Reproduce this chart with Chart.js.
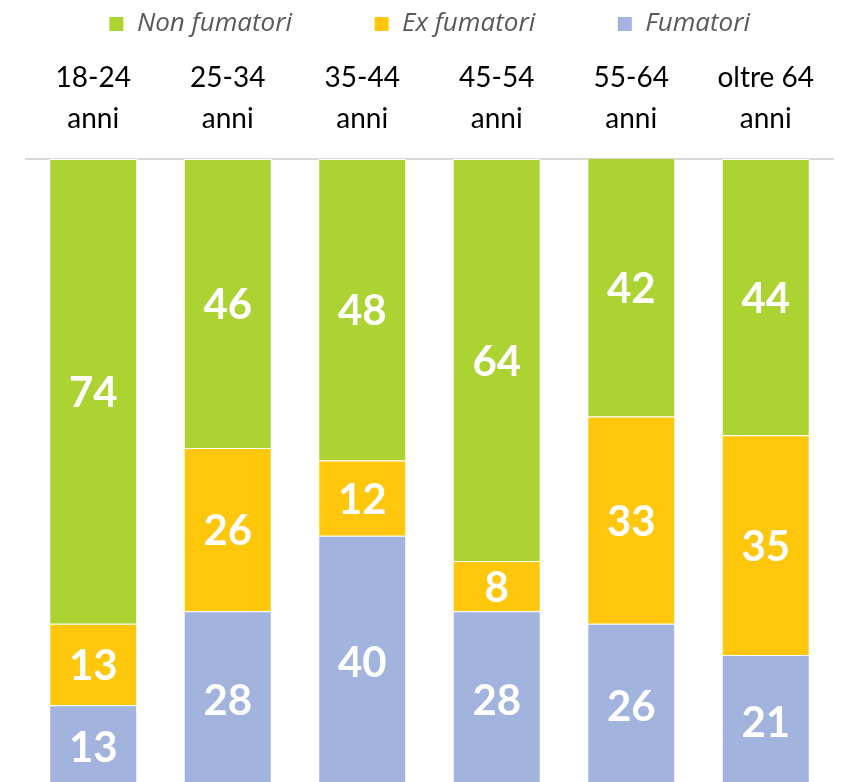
<!DOCTYPE html>
<html>
<head>
<meta charset="utf-8">
<script src="https://cdn.jsdelivr.net/npm/chart.js@4"></script>
<style>
    html, body { margin: 0; padding: 0; background: #fff; overflow: hidden; }
    #wrap { position: relative; width: 841px; height: 787px; }
</style>
</head>
<body>
<div id="wrap"><canvas id="smokeChart"></canvas></div>
<script>
// age groups (two-line tick labels) and shares per group, in %
const ageGroups = [
    ['18-24', 'anni'],
    ['25-34', 'anni'],
    ['35-44', 'anni'],
    ['45-54', 'anni'],
    ['55-64', 'anni'],
    ['oltre 64', 'anni'],
]
const fumatori = [13, 28, 40, 28, 26, 21]
const exFumatori = [13, 26, 12, 8, 33, 35]
const nonFumatori = [74, 46, 48, 64, 42, 44]

const FONT = 'Lato, "Open Sans", sans-serif'

// white numbers in the middle of each segment
const segmentLabels = {
    id: 'segmentLabels',
    afterDatasetsDraw(chart) {
        const ctx = chart.ctx
        ctx.save()
        ctx.fillStyle = '#ffffff'
        ctx.font = 'bold 42px ' + FONT
        ctx.textAlign = 'center'
        ctx.textBaseline = 'middle'
        chart.data.datasets.forEach((ds, i) => {
            const meta = chart.getDatasetMeta(i)
            meta.data.forEach((bar, j) => {
                const top = Math.max(bar.y, chart.chartArea.top)
                const y = (top + bar.base) / 2
                ctx.fillText(String(ds.data[j]), bar.x, y + 2)
            })
        })
        ctx.restore()
    }
}

function drawChart() {
    const ctx = document.getElementById('smokeChart').getContext('2d')
    new Chart(ctx, {
        type: 'bar',
        data: {
            labels: ageGroups,
            datasets: [
                {
                    label: 'Fumatori',
                    data: fumatori,
                    backgroundColor: '#a2b3de',
                    borderColor: '#ffffff',
                    borderWidth: 1,
                },
                {
                    label: 'Ex fumatori',
                    data: exFumatori,
                    backgroundColor: '#ffc70c',
                    borderColor: '#ffffff',
                    borderWidth: 1,
                },
                {
                    label: 'Non fumatori',
                    data: nonFumatori,
                    backgroundColor: '#add333',
                    borderColor: '#ffffff',
                    borderWidth: 1,
                },
            ]
        },
        options: {
            responsive: true,
            maintainAspectRatio: false,
            animation: false,
            barPercentage: 0.654,
            categoryPercentage: 1,
            layout: {
                padding: { top: -71, left: 26, right: 8, bottom: 0 }
            },
            plugins: {
                tooltip: { enabled: false },
                legend: {
                    position: 'top',
                    reverse: true,
                    labels: {
                        boxWidth: 15,
                        boxHeight: 15,
                        padding: 82,
                        color: '#595959',
                        font: { family: '"Open Sans", sans-serif', size: 26, style: 'italic' },
                    }
                }
            },
            scales: {
                x: {
                    position: 'top',
                    stacked: true,
                    grid: { display: false, drawTicks: false },
                    border: { display: true, color: '#d9d9d9', width: 2 },
                    ticks: {
                        color: '#000000',
                        padding: 20,
                        font: { family: FONT, size: 28, lineHeight: 1.45 },
                    },
                    afterFit: scale => { scale.height = 112 },
                },
                y: {
                    display: false,
                    stacked: true,
                    min: 0,
                    max: 100,
                }
            }
        },
        plugins: [segmentLabels],
    })
}

drawChart()
</script>
</body>
</html>
